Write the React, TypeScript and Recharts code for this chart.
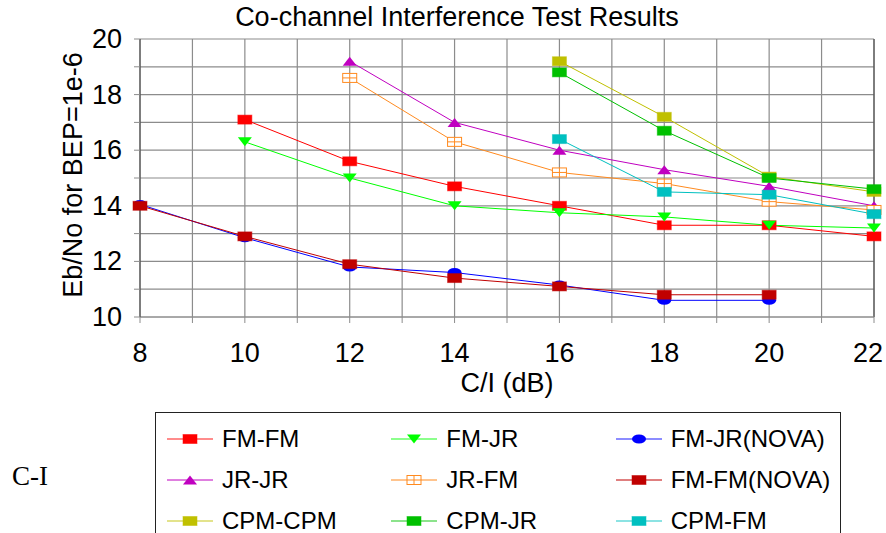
import React from 'react';
import { LineChart, Line, XAxis, YAxis, CartesianGrid, ReferenceLine } from 'recharts';

// C/I steps (dB)
const ciValues = [8, 10, 12, 14, 16, 18, 20, 22];

// Eb/No needed for BEP = 1e-6, one list per interference pairing
const fmFm = [null, 17.1, 15.6, 14.7, 14.0, 13.3, 13.3, 12.9];
const fmJr = [null, 16.3, 15.0, 14.0, 13.75, 13.6, 13.3, 13.2];
const fmJrNova = [14.05, 12.85, 11.8, 11.6, 11.15, 10.6, 10.6, null];
const jrJr = [null, null, 19.2, 17.0, 16.0, 15.3, 14.7, 14.0];
const jrFm = [null, null, 18.6, 16.3, 15.2, 14.8, 14.15, 13.85];
const fmFmNova = [14.0, 12.9, 11.9, 11.4, 11.1, 10.8, 10.8, null];
const cpmCpm = [null, null, null, null, 19.2, 17.2, 15.05, 14.5];
const cpmJr = [null, null, null, null, 18.8, 16.7, 15.0, 14.6];
const cpmFm = [null, null, null, null, 16.4, 14.5, 14.4, 13.7];

const xTicks = [8, 9, 10, 11, 12, 13, 14, 15, 16, 17, 18, 19, 20, 21, 22];
const yTicks = [10, 11, 12, 13, 14, 15, 16, 17, 18, 19, 20];

type Shape = 'square' | 'down' | 'up' | 'circle' | 'boxcross';

const series: { key: string; name: string; values: (number | null)[]; color: string; shape: Shape; soft: boolean }[] = [
  { key: 'fmFm', name: 'FM-FM', values: fmFm, color: '#ff0000', shape: 'square', soft: true },
  { key: 'fmJr', name: 'FM-JR', values: fmJr, color: '#00ff00', shape: 'down', soft: true },
  { key: 'fmJrNova', name: 'FM-JR(NOVA)', values: fmJrNova, color: '#0000ff', shape: 'circle', soft: true },
  { key: 'jrJr', name: 'JR-JR', values: jrJr, color: '#c000c0', shape: 'up', soft: false },
  { key: 'jrFm', name: 'JR-FM', values: jrFm, color: '#ff8a1f', shape: 'boxcross', soft: false },
  { key: 'fmFmNova', name: 'FM-FM(NOVA)', values: fmFmNova, color: '#c00000', shape: 'square', soft: false },
  { key: 'cpmCpm', name: 'CPM-CPM', values: cpmCpm, color: '#c0c000', shape: 'square', soft: true },
  { key: 'cpmJr', name: 'CPM-JR', values: cpmJr, color: '#00c000', shape: 'square', soft: true },
  { key: 'cpmFm', name: 'CPM-FM', values: cpmFm, color: '#00c0c0', shape: 'square', soft: true },
];

const data = ciValues.map((ci, i) => {
  const row: Record<string, number | null> = { ci };
  series.forEach((s) => {
    row[s.key] = s.values[i];
  });
  return row;
});

const FONT = 'Arial, "Liberation Sans", sans-serif';

function Marker({ cx, cy, color, shape }: { cx: number; cy: number; color: string; shape: Shape }) {
  const w = 7;
  const h = 4.5;
  switch (shape) {
    case 'square':
      return <rect x={cx - w} y={cy - h} width={w * 2} height={h * 2} fill={color} stroke={color} strokeOpacity={0.5} />;
    case 'up':
      return <polygon points={`${cx - w},${cy + h} ${cx + w},${cy + h} ${cx},${cy - h}`} fill={color} />;
    case 'down':
      return <polygon points={`${cx - w},${cy - h} ${cx + w},${cy - h} ${cx},${cy + h}`} fill={color} />;
    case 'circle':
      return <ellipse cx={cx} cy={cy} rx={w} ry={h} fill={color} />;
    case 'boxcross':
      return (
        <g fill="none" stroke={color} strokeWidth={1}>
          <rect x={cx - w} y={cy - h} width={w * 2} height={h * 2} fill="#fff" />
          <line x1={cx - w} y1={cy} x2={cx + w} y2={cy} />
          <line x1={cx} y1={cy - h} x2={cx} y2={cy + h} />
        </g>
      );
  }
  return null;
}

const makeDot = (color: string, shape: Shape) => (p: any) => {
  if (p.value == null || p.cx == null || p.cy == null) return <g key={`e${p.index}`} />;
  return <Marker key={`m${p.index}`} cx={p.cx} cy={p.cy} color={color} shape={shape} />;
};

// even values only; the last label is pulled in so it stays inside the frame
const XTick = ({ x, y, payload }: any) => {
  if (payload.value % 2 !== 0) return <g />;
  const last = payload.value === 22;
  return (
    <text
      x={last ? x + 9 : x}
      y={y + 28}
      textAnchor={last ? 'end' : 'middle'}
      dominantBaseline="central"
      fontSize={27}
      fontFamily={FONT}
      fill="#000"
    >
      {payload.value}
    </text>
  );
};

const YTick = ({ x, y, payload }: any) =>
  payload.value % 2 === 0 ? (
    <text x={x - 10} y={y} textAnchor="end" dominantBaseline="central" fontSize={27} fontFamily={FONT} fill="#000">
      {payload.value}
    </text>
  ) : (
    <g />
  );

const YLabel = ({ viewBox }: any) => {
  const cx = viewBox.x + viewBox.width - 67;
  const cy = viewBox.y + viewBox.height / 2 - 3;
  return (
    <text
      x={cx}
      y={cy}
      transform={`rotate(-90 ${cx} ${cy})`}
      textAnchor="middle"
      dominantBaseline="central"
      fontSize={27}
      fontFamily={FONT}
      fill="#000"
    >
      Eb/No for BEP=1e-6
    </text>
  );
};

function LegendItem({ s }: { s: (typeof series)[number] }) {
  return (
    <div style={{ display: 'flex', alignItems: 'center', width: 225 }}>
      <svg width={48} height={20} style={{ marginRight: 7 }}>
        <line x1={0} y1={10} x2={46} y2={10} stroke={s.color} strokeWidth={s.soft ? 2 : 1} strokeOpacity={s.soft ? 0.45 : 1} />
        <Marker cx={23} cy={10} color={s.color} shape={s.shape} />
      </svg>
      <span>{s.name}</span>
    </div>
  );
}

export default function App() {
  return (
    <div style={{ position: 'fixed', left: 0, top: 0, width: 886, height: 533, overflow: 'hidden', background: '#fff' }}>
      <div
        style={{
          position: 'absolute',
          left: 0,
          width: 914,
          top: 2,
          textAlign: 'center',
          fontFamily: FONT,
          fontSize: 27,
          lineHeight: '31px',
        }}
      >
        Co-channel Interference Test Results
      </div>

      <div style={{ position: 'absolute', left: 0, top: 0 }}>
        <LineChart width={886} height={400} data={data} margin={{ top: 39, right: 12, bottom: 23, left: 40 }}>
          <CartesianGrid stroke="#8c8c8c" strokeWidth={1.2} />
          <XAxis
            dataKey="ci"
            type="number"
            domain={[8, 22]}
            ticks={xTicks}
            interval={0}
            height={60}
            tickSize={6}
            tickMargin={2}
            axisLine={{ stroke: '#8c8c8c' }}
            tickLine={{ stroke: '#8c8c8c' }}
            tick={<XTick />}
            label={{
              value: 'C/I (dB)',
              position: 'insideBottom',
              offset: -15,
              fontSize: 27,
              fontFamily: FONT,
              fill: '#000',
            }}
          />
          <YAxis
            type="number"
            domain={[10, 20]}
            ticks={yTicks}
            interval={0}
            width={100}
            tickSize={6}
            tickMargin={2}
            axisLine={{ stroke: '#404040' }}
            tickLine={{ stroke: '#8c8c8c' }}
            tick={<YTick />}
            label={<YLabel />}
          />
          <ReferenceLine x={22} stroke="#404040" />
          {series.map((s) => (
            <Line
              key={s.key}
              dataKey={s.key}
              name={s.name}
              stroke={s.color}
              strokeWidth={1}
              dot={makeDot(s.color, s.shape)}
              activeDot={false}
              connectNulls={false}
              isAnimationActive={false}
            />
          ))}
        </LineChart>
      </div>

      <div
        style={{
          position: 'absolute',
          left: 12,
          top: 459,
          fontFamily: '"Liberation Serif", "Times New Roman", serif',
          fontSize: 27,
          lineHeight: '34px',
        }}
      >
        C-I
      </div>

      <div
        style={{
          position: 'absolute',
          left: 155,
          top: 412,
          width: 686,
          height: 150,
          border: '1px solid #222',
          boxSizing: 'border-box',
          fontFamily: FONT,
          fontSize: 24,
          paddingLeft: 11,
          paddingTop: 5,
        }}
      >
        {[0, 1, 2].map((r) => (
          <div key={r} style={{ display: 'flex', height: 41, alignItems: 'center' }}>
            {series.slice(r * 3, r * 3 + 3).map((s) => (
              <LegendItem key={s.key} s={s} />
            ))}
          </div>
        ))}
      </div>
    </div>
  );
}
